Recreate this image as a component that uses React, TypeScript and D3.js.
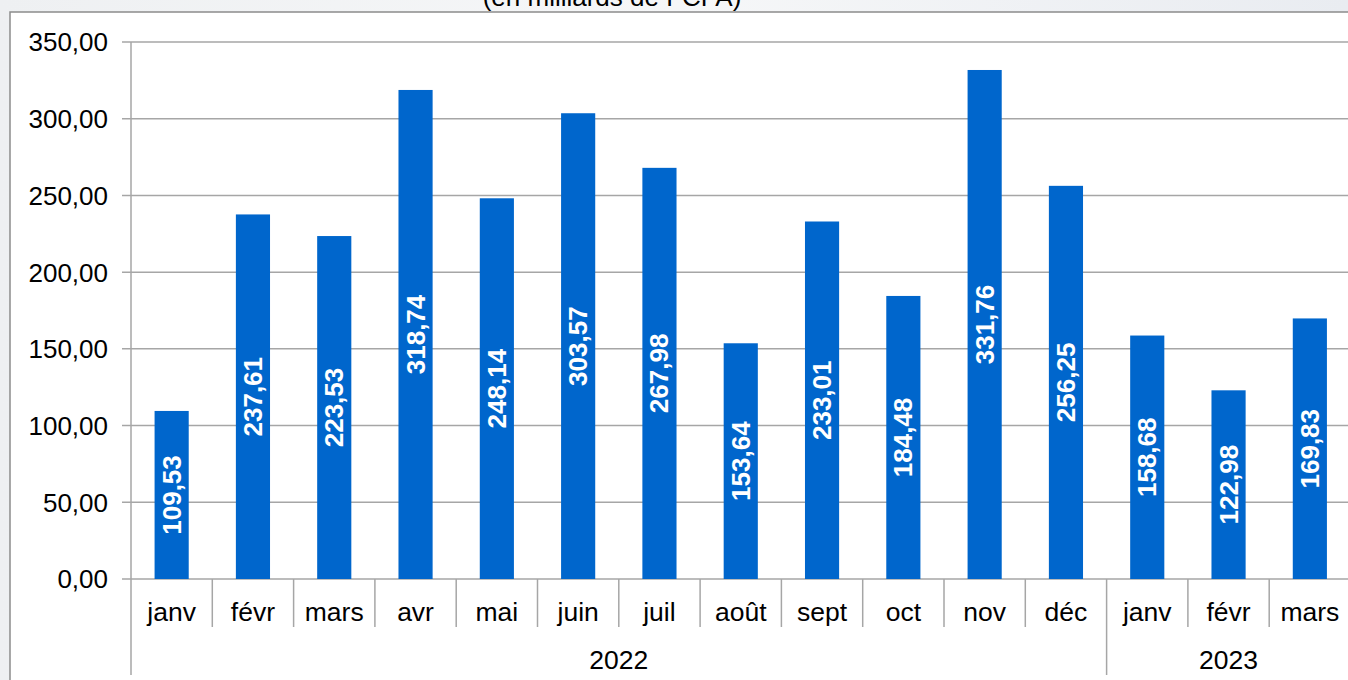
import React from "react";
import * as d3 from "d3";

const months = ["janv","févr","mars","avr","mai","juin","juil","août","sept","oct","nov","déc","janv","févr","mars"];
const values = [109.53,237.61,223.53,318.74,248.14,303.57,267.98,153.64,233.01,184.48,331.76,256.25,158.68,122.98,169.83];
const years = [{ label: "2022", start: 0, count: 12 }, { label: "2023", start: 12, count: 3 }];
const yTicks = [0,50,100,150,200,250,300,350];
const title = "(en milliards de FCFA)";

const W = 1348, H = 680;
const FONT = "'Liberation Sans', Arial, sans-serif";

export default function App() {
  const x = d3.scaleBand<number>().domain(d3.range(months.length)).range([131, 131 + 15 * 81.3]).padding(0);
  const y = d3.scaleLinear().domain([0, 350]).range([579, 42]);
  const bw = x.bandwidth() * 0.42;
  const fmt = (v: number) => v.toFixed(2).replace(".", ",");
  const grid = "#a6a6a6";
  return (
    <div style={{ position: "absolute", left: 0, top: 0 }}>
      <svg width={W} height={H} style={{ display: "block" }}>
        <defs>
          <linearGradient id="bg" x1="0" y1="0" x2="1" y2="0">
            <stop offset="0" stopColor="#eef0f2" />
            <stop offset="0.5" stopColor="#f6f7f8" />
            <stop offset="1" stopColor="#e9ecf1" />
          </linearGradient>
        </defs>
        <rect x={0} y={0} width={W} height={H} fill="url(#bg)" />
        <rect x={10} y={12} width={W} height={H} fill="#ffffff" stroke="#8c8c8c" strokeWidth={1.5} />
        <text x={612} y={6} textAnchor="middle" fontFamily={FONT} fontSize={26} fill="#000">{title}</text>
        {yTicks.map(t => (
          <g key={t}>
            <line x1={122} x2={W} y1={y(t)} y2={y(t)} stroke={grid} strokeWidth={1.5} />
            <text x={108} y={y(t)} dy="0.36em" textAnchor="end" fontFamily={FONT} fontSize={26} fill="#000">{fmt(t)}</text>
          </g>
        ))}
        <line x1={131} x2={131} y1={42} y2={675} stroke={grid} strokeWidth={1.5} />
        {months.map((m, i) => {
          const x0 = x(i)!;
          const isGroupEdge = years.some(g => g.start === i);
          return (
            <g key={i}>
              {i > 0 && <line x1={x0} x2={x0} y1={579} y2={isGroupEdge ? 675 : 627} stroke={grid} strokeWidth={1.5} />}
              <rect x={x0 + (x.bandwidth() - bw) / 2} y={y(values[i])} width={bw} height={y(0) - y(values[i])} fill="#0066cc" />
              <text
                transform={`translate(${x0 + x.bandwidth() / 2},${(y(values[i]) + y(0)) / 2}) rotate(-90)`}
                textAnchor="middle" dominantBaseline="central" fontFamily={FONT} fontSize={26} fontWeight="bold" fill="#ffffff">
                {fmt(values[i])}
              </text>
              <text x={x0 + x.bandwidth() / 2} y={621} textAnchor="middle" fontFamily={FONT} fontSize={26.5} fill="#000">{m}</text>
            </g>
          );
        })}
        {years.map(g => {
          const a = x(g.start)!;
          const b = a + x.bandwidth() * g.count;
          return <text key={g.label} x={(a + b) / 2} y={669} textAnchor="middle" fontFamily={FONT} fontSize={26.5} fill="#000">{g.label}</text>;
        })}
      </svg>
    </div>
  );
}
